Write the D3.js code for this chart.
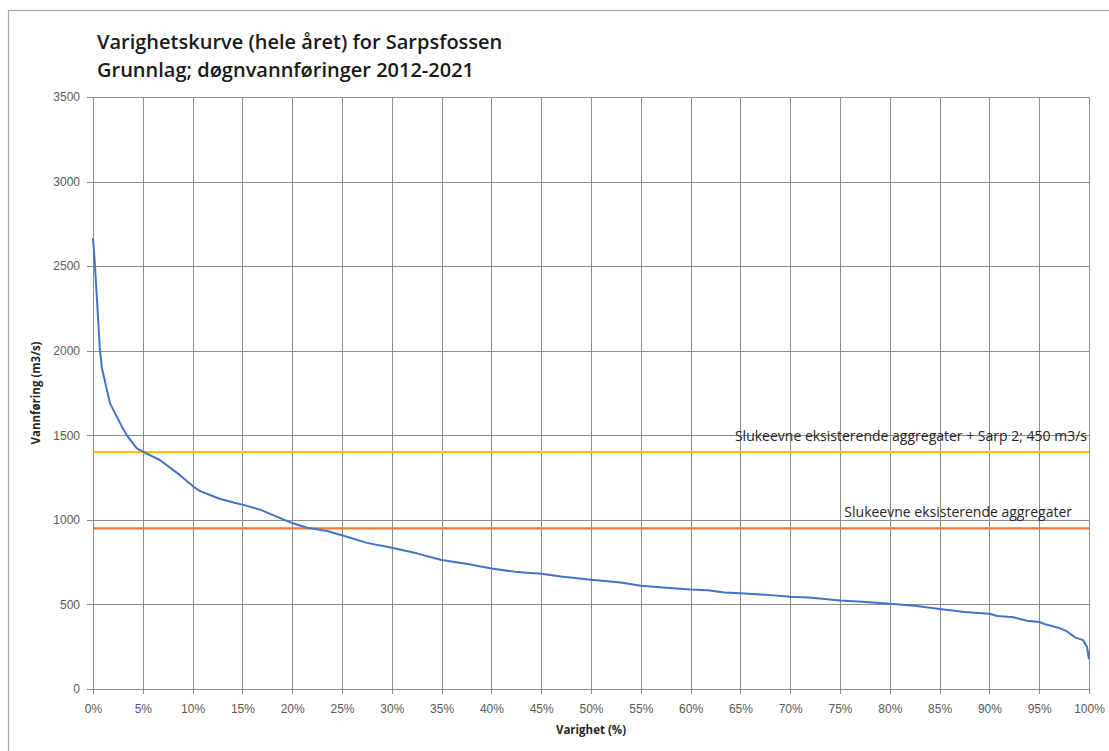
<!DOCTYPE html>
<html>
<head>
<meta charset="utf-8">
<script src="https://cdn.jsdelivr.net/npm/d3@7"></script>
<style>
  body { margin: 0; background: #fff; }
  svg { display: block; font-family: "Open Sans", "Liberation Sans", sans-serif; }
  .tick text { fill: #595959; font-size: 12px; }
</style>
</head>
<body>
<div class="graph_container"></div>
<script>
// duration curve: varighet (%) -> vannføring (m3/s)
const varighet = [0, 0.2, 0.7, 0.9, 1.7, 2.9, 3.4, 4.4, 5.0, 6.7, 8.5, 10.1, 10.7, 12.7, 14.2, 15, 16.9, 18.2, 20, 21.5,
  23.5, 25, 27.5, 30, 32.5, 35, 37.6, 40, 42.6, 45, 47, 50, 53, 55, 57.5, 60, 61.7, 63.4, 65, 68, 70, 71.9, 75, 77.2,
  80, 82.5, 85, 87.5, 90, 90.8, 92.4, 93.8, 95, 95.6, 97, 97.7, 98.6, 99.4, 99.8, 100];
const vannforing = [2665, 2500, 2000, 1896, 1690, 1551, 1500, 1423, 1403, 1354, 1275, 1196, 1171, 1125, 1101, 1090, 1058, 1025, 981, 953,
  934, 909, 864, 835, 802, 763, 739, 712, 691, 681, 665, 646, 629, 611, 598, 588, 584, 570, 566, 555, 545, 541, 523, 516,
  504, 492, 473, 455, 445, 432, 424, 404, 396, 383, 361, 344, 305, 289, 250, 176];

// capacity lines
const kapasitetVerdier = [1400, 950];
const kapasitetTekster = ["Slukeevne eksisterende aggregater + Sarp 2; 450 m3/s", "Slukeevne eksisterende aggregater"];
const kapasitetFarger = ["#FFC000", "#ED7D31"];

const xTicks = d3.range(0, 101, 5);
const yTicks = d3.range(0, 3501, 500);
const titleLines = ["Varighetskurve (hele året) for Sarpsfossen", "Grunnlag; døgnvannføringer 2012-2021"];

document.addEventListener("DOMContentLoaded", () => {
    const width = 1109, height = 751;
    const left = 93, right = 1089, top = 97, bottom = 689;

    const svg = d3.select(".graph_container").append("svg").attr("width", width).attr("height", height);

    // outer frame
    svg.append("rect").attr("x", 8.5).attr("y", 10.5).attr("width", 1200).attr("height", 900)
        .attr("fill", "none").attr("stroke", "#a6a6a6").attr("stroke-width", 1.2);

    const x = d3.scaleLinear().domain([0, 100]).range([left, right]);
    const y = d3.scaleLinear().domain([0, 3500]).range([bottom, top]);

    // title
    svg.append("g").selectAll("text").data(titleLines).enter().append("text")
        .attr("x", 97).attr("y", (d, i) => 49 + i * 28)
        .attr("font-size", "20px").attr("font-weight", 600).attr("fill", "#1a1a1a")
        .text(d => d);

    // grid
    svg.append("g").selectAll("line").data(xTicks).enter().append("line")
        .attr("x1", d => Math.round(x(d)) + 0.5).attr("x2", d => Math.round(x(d)) + 0.5)
        .attr("y1", top).attr("y2", bottom + 5)
        .attr("stroke", "#8c8c8c").attr("stroke-width", 1);
    svg.append("g").selectAll("line").data(yTicks).enter().append("line")
        .attr("x1", left - 6).attr("x2", right)
        .attr("y1", d => Math.round(y(d)) + 0.5).attr("y2", d => Math.round(y(d)) + 0.5)
        .attr("stroke", "#8c8c8c").attr("stroke-width", 1);

    // axes (labels only, grid draws lines)
    const xAxis = d3.axisBottom(x).tickValues(xTicks).tickFormat(d => d + "%").tickSize(0).tickPadding(15);
    svg.append("g").attr("transform", "translate(0," + bottom + ")").call(xAxis).call(g => g.select(".domain").remove());
    const yAxis = d3.axisLeft(y).tickValues(yTicks).tickFormat(d3.format("d")).tickSize(0).tickPadding(13);
    svg.append("g").attr("transform", "translate(" + left + ",0)").call(yAxis).call(g => g.select(".domain").remove());
    svg.selectAll(".tick text").attr("font-family", null);

    // axis titles
    svg.append("text").attr("x", x(50)).attr("y", 734).attr("text-anchor", "middle")
        .attr("font-size", "11.5px").attr("font-weight", 700).attr("fill", "#262626").text("Varighet (%)");
    svg.append("text").attr("transform", "translate(40," + (top + bottom) / 2 + ") rotate(-90)")
        .attr("text-anchor", "middle").attr("font-size", "11.5px").attr("font-weight", 700).attr("fill", "#262626")
        .text("Vannføring (m3/s)");

    // capacity lines
    kapasitetVerdier.forEach((v, i) => {
        svg.append("line").attr("x1", left).attr("x2", right).attr("y1", y(v)).attr("y2", y(v))
            .attr("stroke", kapasitetFarger[i]).attr("stroke-width", 2.2);
        svg.append("text").attr("x", i === 0 ? 1087 : 1072).attr("y", y(v) - 11).attr("text-anchor", "end")
            .attr("font-size", "14px").attr("fill", "#262626").text(kapasitetTekster[i]);
    });

    // duration curve
    const line = d3.line().x((d, i) => x(varighet[i])).y(d => y(d));
    svg.append("path").datum(vannforing).attr("d", line)
        .attr("fill", "none").attr("stroke", "#4472C4").attr("stroke-width", 2).attr("stroke-linejoin", "round");
});
</script>
</body>
</html>
